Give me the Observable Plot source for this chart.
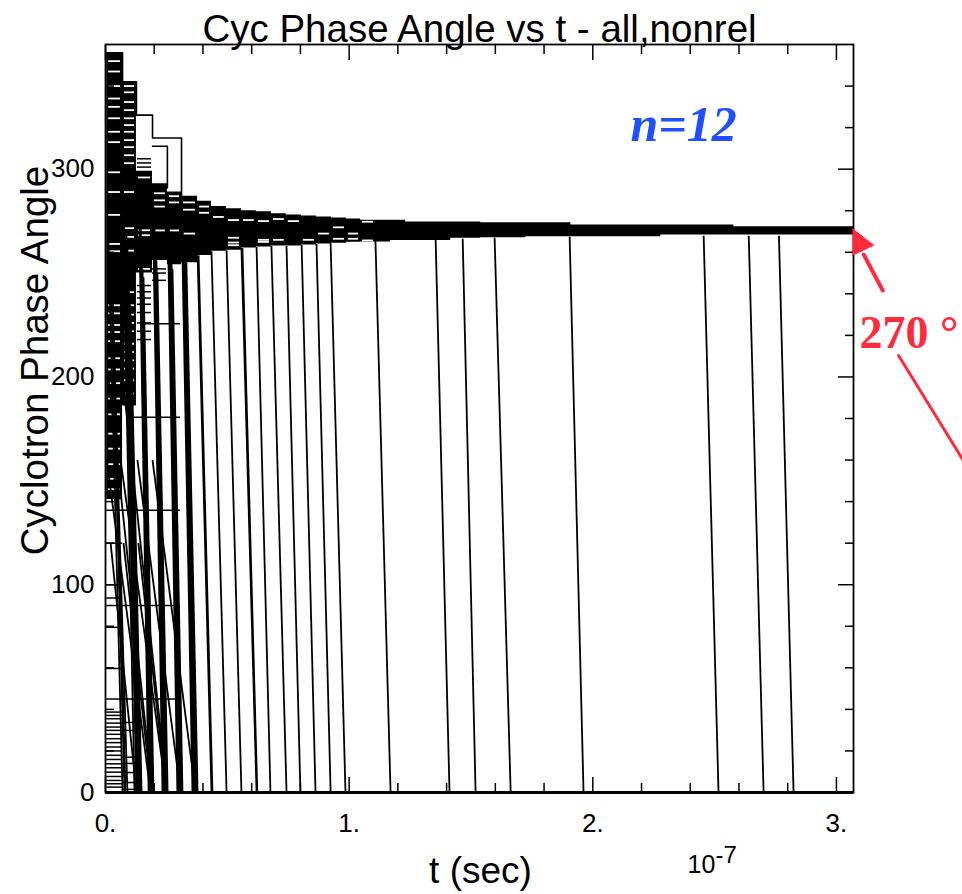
<!DOCTYPE html>
<html><head><meta charset="utf-8">
<script src="https://cdn.jsdelivr.net/npm/d3@7"></script>
<script src="https://cdn.jsdelivr.net/npm/@observablehq/plot@0.6"></script>
<style>html,body{margin:0;padding:0;background:#fff;overflow:hidden}</style>
</head><body><div id="chart"></div><script>
// ---- text ----
const title = "Cyc Phase Angle vs t - all,nonrel";
const xLabel = "t (sec)";
const yLabel = "Cyclotron Phase Angle";
const xExpBase = "10", xExpPow = "-7";
const nLabel = "n=12";
const angleLabel = "270 °";

// ---- axes (t in units of 1e-7 s, phase in degrees) ----
const xMajor = [0, 1, 2, 3];
const xMinor = [0.2, 0.4, 0.6, 0.8, 1.2, 1.4, 1.6, 1.8, 2.2, 2.4, 2.6, 2.8];
const yMajor = [0, 100, 200, 300];
const yMinor = [20, 40, 60, 80, 120, 140, 160, 180, 220, 240, 260, 280, 320, 340];

// ---- time-step columns ----
const colT = [0.005, 0.070, 0.127, 0.193, 0.254, 0.312, 0.378, 0.435, 0.496, 0.558, 0.619, 0.681, 0.742, 0.804, 0.866, 0.927, 0.989, 1.047, 1.108];

// ---- dense converging band (upper / lower envelope per step) ----
const bandT  = [0.005, 0.070, 0.127, 0.193, 0.254, 0.312, 0.378, 0.435, 0.496, 0.558, 0.619, 0.681, 0.742, 0.804, 0.866, 0.927, 0.989, 1.047, 1.170, 1.232, 1.417, 1.540, 1.725, 1.910, 2.279, 2.579, 3.07];
const bandHi = [356, 342, 299, 293, 289, 287, 284.5, 282, 281, 280, 279.5, 278.5, 278, 277.5, 277, 276.5, 276, 275.4, 275.4, 274.6, 274.6, 274.2, 274.2, 273.1, 273.1, 272.3, 272.3];
const bandLo = [141, 186, 250, 256, 254, 255, 258.5, 260.5, 261, 262, 262.5, 263, 263, 263.5, 264, 264.3, 264.8, 265, 265.7, 265.7, 266.7, 267, 267.5, 267.5, 268.3, 268.3, 268.3];

// ---- white gaps inside the dense black (column index, phase) ----
const gapCol = [0,0,0,0,0,0,0,0,0,0,0,0,0,0,0,0,0,0,0,0,0,0,0,0,0,0,0,0,
  1,1,1,1,1,1,1,1,1,1,1,1,1,1,1,1,1,1,1,1,1,1,1,1,1,1,
  2,2,2,2,2, 3,3,3,3, 4,4,4, 5,5,5, 6,6, 7, 8,8,8,8, 9, 10,10,10, 11,11, 12, 13, 14, 15,15, 16,16, 17,17];
const gapP = [352,347,340,334,330,324.5,318,313,298.5,289,278,264,260.5,234.5,230.6,225,221.6,217.2,209,203.6,197,189.6,182,172.7,165.5,158,151,146,
  340,337,332.3,328.4,324.5,321.2,318,314,310.6,306.7,302.9,289,271.6,267.4,260.8,240.8,234.5,230,226,222,216,212,208,204,198.4,192,
  270.6,268.2,296,252,248, 288.4,285,282,270.5, 287,284,270.5, 284,280.5,269, 282,279, 277, 275.5,267,264.7,263.4, 275.5, 275,266,265, 276,266, 275, 266, 269, 272,266.5, 269,266.5, 274.7,265.7];

// ---- stray horizontal segments (start t, end t, phase) ----
const segT1 = [0.005,0.005,0.005,0.090,0.156, 0.131,0.131,0.131, 0.131,0.131,0.131,0.131,0.131,0.131,0.131,0.131, 0.193,0.193,0.193, 0.254];
const segT2 = [0.287,0.308,0.308,0.308,0.308, 0.189,0.189,0.189, 0.189,0.189,0.189,0.189,0.189,0.189,0.189,0.189, 0.250,0.250,0.250, 0.308];
const segP  = [45,90,135.8,180.6,225.6, 305,303,301, 244,241,238,235,231,226,222,218, 252,250,246.5, 257];
// ladders of short lines in the first two columns, low phases
const col0Levels = [120,100,93.6,79.5,59.7,38.7,37.1,35.5,33.4,31.5,29.9,28,25.9,24,21.9,20,17.9,15.9,13.8,11.9,9.8,7.7,5.8,4.2,2.6];
const col1Levels = [33.7,29.9,17,14,9.6,4.8,1.5];

// ---- outline trajectories (stepped) ----
const topTrajT = [0.005, 0.070, 0.127, 0.193, 0.254, 0.312];
const topTrajP = [356, 342, 326, 315, 315, 287];
const secTrajT = [0.193, 0.254];
const secTrajP = [311, 291];

// ---- lines dropping to 0 (start t, start phase, end t) ----
const dropT0 = [
  // early columns
  0.012,0.021,0.029,0.033, 0.062,0.070,0.074,0.078, 0.086,0.090,0.094,0.099,0.103,
  // thick stripes
  0.136,0.140,0.144,0.148,0.152,0.156, 0.193,0.197,0.201,0.205,0.209,0.213, 0.254,0.259,0.263,0.267,0.271,0.275, 0.312,0.316,0.320,0.324,0.328,0.332,
  // long slanted lines
  0.005,0.062,0.131,0.193,0.021,0.074,0.135,0.012,0.070,
  // single drops, middle and right
  0.378,0.382,0.435,0.497,0.558,0.562,0.620,0.681,0.743,0.805,0.866,0.924,
  1.108,1.355,1.466,1.597,1.905,2.455,2.640,2.764];
const dropP0 = [
  265,255,240,220, 330,300,285,270, 268,262,250,240,230,
  295,285,275,262,252,248, 292,282,272,265,256,250, 287,278,270,262,256,252, 283,276,268,262,258,255,
  160,160,160,160,120,120,120,200,200,
  258.5,258.5,260.5,261,262,262,262.5,263,263,263.5,264,264.3,
  265.5,266,266.5,267,267.5,268,268,268];
const dropT1 = [
  0.070,0.078,0.082,0.090, 0.119,0.127,0.131,0.135, 0.131,0.136,0.140,0.144,0.148,
  0.177,0.181,0.185,0.189,0.193,0.197, 0.234,0.238,0.242,0.246,0.250,0.255, 0.295,0.299,0.304,0.308,0.312,0.316, 0.357,0.361,0.365,0.369,0.373,0.378,
  0.185,0.250,0.308,0.369,0.127,0.189,0.250,0.193,0.254,
  0.435,0.439,0.497,0.558,0.620,0.623,0.677,0.743,0.800,0.862,0.924,0.985,
  1.170,1.412,1.519,1.663,1.962,2.516,2.701,2.824];

// ---- red annotation (data coords) ----
const arrowHeadT = [3.066, 3.153, 3.066], arrowHeadP = [271.3, 263.4, 258.6];
const arrowShaftT = [3.112, 3.190], arrowShaftP = [258.9, 241.6];
const pointerT = [3.255, 3.571], pointerP = [210.3, 150.2];

const sans = "Liberation Sans, Arial, Helvetica, sans-serif";
const serif = "Liberation Serif, Times New Roman, serif";
const red = "#ff2a3c";
const idx = a => a.map((_, i) => i);

const bandRows = bandT.map((t, i) => ({t, hi: bandHi[i], lo: bandLo[i]}));

const chart = Plot.plot({
  width: 962, height: 894,
  marginLeft: 105, marginRight: 109, marginTop: 44, marginBottom: 102,
  style: {background: "white", fontFamily: sans, overflow: "visible"},
  x: {domain: [0, 3.07]},
  y: {domain: [0, 360]},
  marks: [
    Plot.areaY(bandRows, {x: "t", y1: "lo", y2: "hi", curve: "step-after", fill: "black"}),
    Plot.ruleY(idx(gapP), {y: i => gapP[i], x1: i => colT[gapCol[i]], x2: i => colT[gapCol[i] + 1], insetLeft: 2, insetRight: 2, stroke: "white", strokeWidth: 1.8}),
    Plot.ruleY(idx(segP), {y: i => segP[i], x1: i => segT1[i], x2: i => segT2[i], stroke: "black", strokeWidth: 1.5}),
    Plot.ruleY(col0Levels, {y: d => d, x1: colT[0], x2: colT[1], stroke: "black", strokeWidth: 1.5}),
    Plot.ruleY(col1Levels, {y: d => d, x1: colT[1], x2: colT[2], stroke: "black", strokeWidth: 1.5}),
    Plot.line(idx(topTrajT), {x: i => topTrajT[i], y: i => topTrajP[i], curve: "step-after", stroke: "black", strokeWidth: 1.6}),
    Plot.line(idx(secTrajT), {x: i => secTrajT[i], y: i => secTrajP[i], curve: "step-after", stroke: "black", strokeWidth: 1.6}),
    Plot.link(idx(dropT0), {x1: i => dropT0[i], y1: i => dropP0[i], x2: i => dropT1[i], y2: 0, stroke: "black", strokeWidth: 1.8}),
    // axes: inward ticks on all sides
    Plot.axisX(xMajor, {anchor: "bottom", tickSize: -15, tickFormat: () => "", label: null, strokeWidth: 1.5}),
    Plot.axisX(xMinor, {anchor: "bottom", tickSize: -9, tickFormat: () => "", label: null, strokeWidth: 1.5}),
    Plot.axisX(xMajor, {anchor: "top", tickSize: -15, tickFormat: () => "", label: null, strokeWidth: 1.5}),
    Plot.axisX(xMinor, {anchor: "top", tickSize: -9, tickFormat: () => "", label: null, strokeWidth: 1.5}),
    Plot.axisY(yMajor, {anchor: "left", tickSize: -16, tickFormat: () => "", label: null, strokeWidth: 1.5}),
    Plot.axisY(yMinor, {anchor: "left", tickSize: -9, tickFormat: () => "", label: null, strokeWidth: 1.5}),
    Plot.axisY(yMajor, {anchor: "right", tickSize: -16, tickFormat: () => "", label: null, strokeWidth: 1.5}),
    Plot.axisY(yMinor, {anchor: "right", tickSize: -9, tickFormat: () => "", label: null, strokeWidth: 1.5}),
    Plot.axisX(xMajor, {anchor: "bottom", tickSize: 0, tickPadding: 21, tickFormat: d => d + ".", label: null, fontSize: 26, fontFamily: sans, fill: "black"}),
    Plot.axisY(yMajor, {anchor: "left", tickSize: 0, tickPadding: 11, tickFormat: d => String(d), label: null, fontSize: 26, fontFamily: sans, fill: "black"}),
    Plot.frame({stroke: "black", strokeWidth: 1.8}),
    Plot.ruleY([0], {stroke: "black", strokeWidth: 3}),
    // titles
    Plot.text([title], {frameAnchor: "top", lineAnchor: "bottom", dy: -3, fontSize: 38.5, fontFamily: sans, fill: "black"}),
    Plot.text([yLabel], {frameAnchor: "left", textAnchor: "middle", rotate: -90, lineAnchor: "bottom", dx: -58, dy: -58, fontSize: 38.5, fontFamily: sans, fill: "black"}),
    Plot.text([xLabel], {frameAnchor: "bottom", lineAnchor: "bottom", dy: 90, dx: 1, fontSize: 37, fontFamily: sans, fill: "black"}),
    Plot.text([xExpBase], {frameAnchor: "bottom-left", textAnchor: "start", lineAnchor: "bottom", dx: 582, dy: 80, fontSize: 25, fontFamily: sans, fill: "black"}),
    Plot.text([xExpPow], {frameAnchor: "bottom-left", textAnchor: "start", lineAnchor: "bottom", dx: 610, dy: 70, fontSize: 24, fontFamily: sans, fill: "black"}),
    Plot.text([nLabel], {frameAnchor: "top-left", textAnchor: "start", lineAnchor: "bottom", dx: 525, dy: 96, fontSize: 50, fontFamily: serif, fontWeight: "bold", fontStyle: "italic", fill: "#1f4fff"}),
    // red annotation
    Plot.line(idx(arrowHeadT), {x: i => arrowHeadT[i], y: i => arrowHeadP[i], fill: red, stroke: red, strokeWidth: 1}),
    Plot.line(idx(arrowShaftT), {x: i => arrowShaftT[i], y: i => arrowShaftP[i], stroke: red, strokeWidth: 4}),
    Plot.line(idx(pointerT), {x: i => pointerT[i], y: i => pointerP[i], stroke: red, strokeWidth: 3}),
    Plot.text([angleLabel], {x: 3.07, y: 270, dx: 6, dy: 116, textAnchor: "start", lineAnchor: "bottom", fontSize: 46, fontFamily: serif, fontWeight: "bold", fill: red})
  ]
});
document.getElementById("chart").appendChild(chart);
</script></body></html>
